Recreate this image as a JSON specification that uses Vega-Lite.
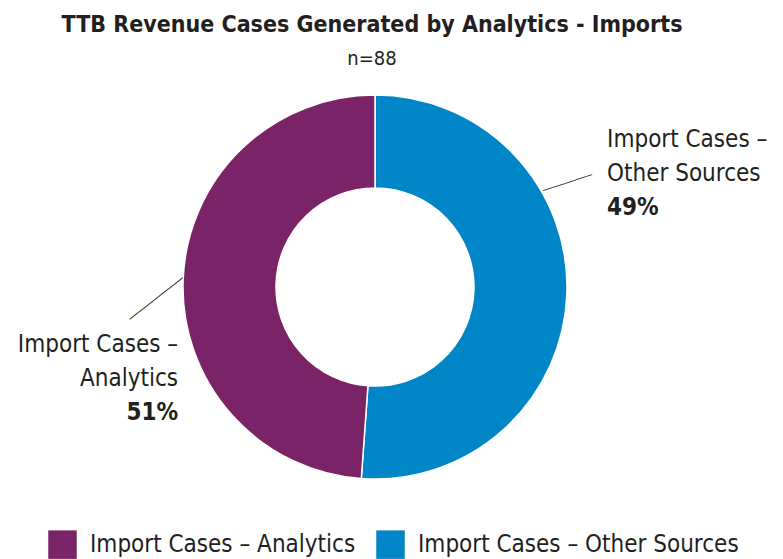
{
  "$schema": "https://vega.github.io/schema/vega-lite/v6.json",
  "width": 750,
  "height": 414,
  "autosize": {"type": "none"},
  "padding": {"left": 0, "top": 80, "right": 33, "bottom": 65},
  "background": "white",
  "config": {"view": {"stroke": null}, "font": "DejaVu Sans Condensed"},
  "title": {
    "text": "TTB Revenue Cases Generated by Analytics - Imports",
    "subtitle": "n=88",
    "anchor": "middle",
    "dx": -3,
    "font": "DejaVu Sans Condensed",
    "fontSize": 23,
    "fontWeight": "bold",
    "color": "#231f20",
    "subtitleFont": "DejaVu Sans Condensed",
    "subtitleFontSize": 20,
    "subtitleColor": "#231f20",
    "subtitlePadding": 12,
    "offset": 11
  },
  "data": {
    "values": [
      {"category": "Import Cases – Other Sources", "count": 45, "order": 1, "lines": ["Import Cases –", "Other Sources"], "pct": "49%"},
      {"category": "Import Cases – Analytics", "count": 43, "order": 2, "lines": ["Import Cases –", "Analytics"], "pct": "51%"}
    ]
  },
  "encoding": {
    "theta": {"field": "count", "type": "quantitative", "stack": true},
    "order": {"field": "order", "type": "quantitative"}
  },
  "layer": [
    {
      "mark": {"type": "arc", "radius": 192, "radius2": 99, "stroke": "white", "strokeWidth": 1.5},
      "encoding": {
        "color": {
          "field": "category",
          "type": "nominal",
          "scale": {"domain": ["Import Cases – Analytics", "Import Cases – Other Sources"], "range": ["#7A2366", "#0085C7"]},
          "legend": {
            "orient": "none",
            "legendX": 48,
            "legendY": 450,
            "direction": "horizontal",
            "title": null,
            "symbolType": "square",
            "symbolSize": 812,
            "symbolStrokeWidth": 0,
            "symbolOpacity": 1,
            "labelFontSize": 24,
            "labelFont": "DejaVu Sans Condensed",
            "labelColor": "#231f20",
            "labelLimit": 500,
            "labelOffset": 13,
            "columnPadding": 20
          }
        }
      }
    },
    {
      "mark": {"type": "text", "radius": 271, "thetaOffset": -0.5786, "align": "left", "baseline": "alphabetic", "fontSize": 24, "lineHeight": 34, "color": "#231f20"},
      "encoding": {
        "text": {"field": "lines", "type": "nominal"},
        "opacity": {"condition": {"test": "datum.order === 1", "value": 1}, "value": 0}
      }
    },
    {
      "mark": {"type": "text", "radius": 271, "thetaOffset": -0.5786, "dy": 68, "align": "left", "baseline": "alphabetic", "fontSize": 24, "fontWeight": "bold", "color": "#231f20"},
      "encoding": {
        "text": {"field": "pct", "type": "nominal"},
        "opacity": {"condition": {"test": "datum.order === 1", "value": 1}, "value": 0}
      }
    },
    {
      "mark": {"type": "text", "text": "─────────", "font": "DejaVu Sans Mono", "fontSize": 9.5, "angle": -18, "radius": 218.8, "thetaOffset": -0.5315, "align": "center", "baseline": "middle", "color": "#231f20"},
      "encoding": {
        "opacity": {"condition": {"test": "datum.order === 1", "value": 1}, "value": 0}
      }
    },
    {
      "mark": {"type": "text", "radius": 207.4, "thetaOffset": -0.3552, "align": "right", "baseline": "alphabetic", "fontSize": 24, "lineHeight": 34, "color": "#231f20"},
      "encoding": {
        "text": {"field": "lines", "type": "nominal"},
        "opacity": {"condition": {"test": "datum.order === 2", "value": 1}, "value": 0}
      }
    },
    {
      "mark": {"type": "text", "radius": 207.4, "thetaOffset": -0.3552, "dy": 68, "align": "right", "baseline": "alphabetic", "fontSize": 24, "fontWeight": "bold", "color": "#231f20"},
      "encoding": {
        "text": {"field": "pct", "type": "nominal"},
        "opacity": {"condition": {"test": "datum.order === 2", "value": 1}, "value": 0}
      }
    },
    {
      "mark": {"type": "text", "text": "───────────", "font": "DejaVu Sans Mono", "fontSize": 10.2, "angle": -38, "radius": 218.8, "thetaOffset": -0.0899, "align": "center", "baseline": "middle", "color": "#231f20"},
      "encoding": {
        "opacity": {"condition": {"test": "datum.order === 2", "value": 1}, "value": 0}
      }
    }
  ]
}
